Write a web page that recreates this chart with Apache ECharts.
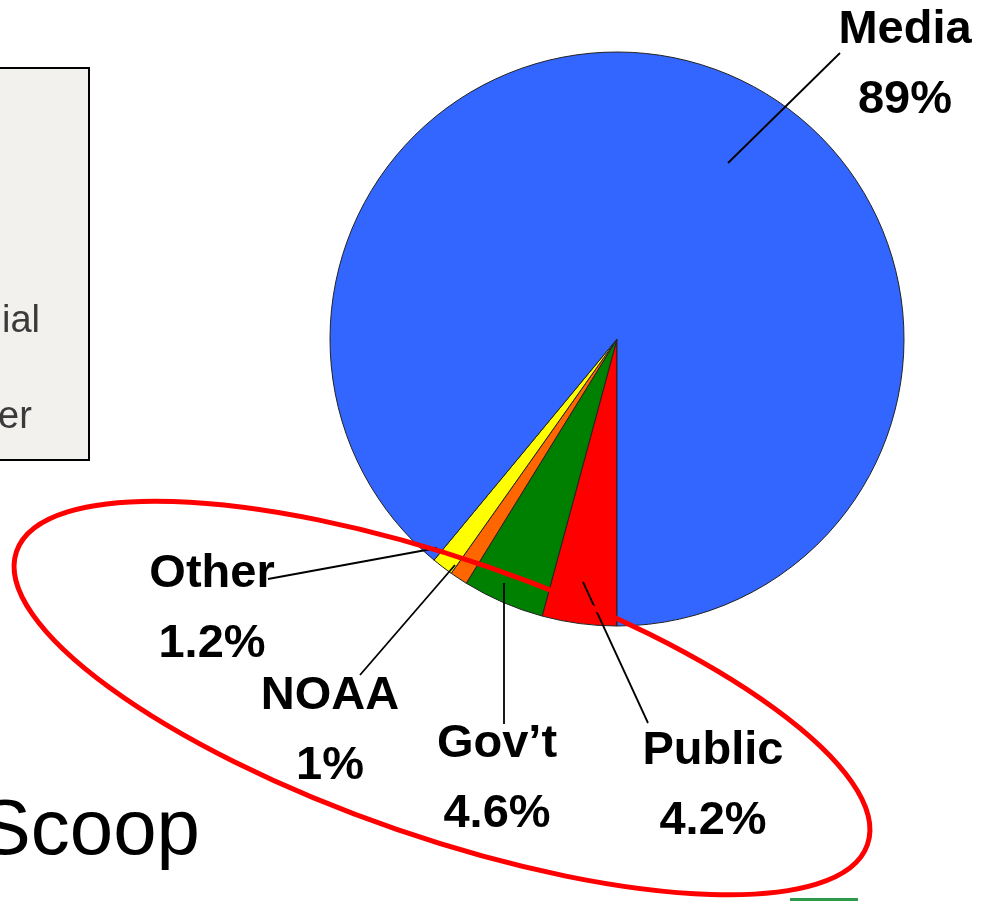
<!DOCTYPE html>
<html>
<head>
<meta charset="utf-8">
<script src="https://cdn.jsdelivr.net/npm/echarts@6/dist/echarts.min.js"></script>
<style>
html,body{margin:0;padding:0;background:#fff;}
#chart{width:990px;height:901px;}
</style>
</head>
<body>
<div id="chart"></div>
<script>
// Data
const categories = ['Public', 'Gov\u2019t', 'NOAA', 'Other', 'Media'];
const shares = [4.2, 4.6, 1, 1.2, 89];
const legendFragments = ['ial', 'er'];
const footerText = 'Scoop';

// Styles / layout (not data)
const sliceColors = ['#FF0000', '#008000', '#FF6600', '#FFFF00', '#3366FF'];
const labelPos = [
  { x: 713, y: 786, line: [[583, 582], [648, 723]] },
  { x: 497, y: 779, line: [[504, 583], [504, 724]] },
  { x: 330, y: 731, line: [[455, 565], [360, 675]] },
  { x: 212, y: 609, line: [[437, 548], [268, 579]] },
  { x: 905, y: 65, line: [[728, 163], [840, 53]] }
];

const chart = echarts.init(document.getElementById('chart'), null, { renderer: 'canvas' });

const leaderLines = labelPos.map(p => ({
  type: 'polyline', z: 50,
  shape: { points: p.line },
  style: { stroke: '#000', lineWidth: 1.8, fill: null }
}));

const option = {
  backgroundColor: '#ffffff',
  animation: false,
  graphic: [
    {
      type: 'rect', z: 1,
      shape: { x: -10, y: 68, width: 99, height: 392 },
      style: { fill: '#f3f1ee', stroke: '#000', lineWidth: 2 }
    },
    {
      type: 'text', z: 2, x: 2, y: 322,
      style: { text: legendFragments[0], font: '38px "Liberation Sans", Arial, sans-serif', fill: '#3a3a3a', align: 'left', verticalAlign: 'middle' }
    },
    {
      type: 'text', z: 2, x: -2, y: 418,
      style: { text: legendFragments[1], font: '38px "Liberation Sans", Arial, sans-serif', fill: '#3a3a3a', align: 'left', verticalAlign: 'middle' }
    },
    {
      type: 'text', z: 2, x: 200, y: 832,
      style: { text: footerText, font: '78px "Liberation Sans", Arial, sans-serif', fill: '#000', align: 'right', verticalAlign: 'middle' }
    },
    ...leaderLines,
    {
      type: 'ellipse', z: 100,
      x: 442, y: 698, rotation: -19 * Math.PI / 180,
      shape: { cx: 0, cy: 0, rx: 450, ry: 139 },
      style: { fill: null, stroke: '#FF0000', lineWidth: 5 }
    },
    {
      type: 'rect', z: 2,
      shape: { x: 790, y: 898, width: 68, height: 3 },
      style: { fill: '#2e9a4c' }
    }
  ],
  series: [{
    type: 'pie',
    z: 2,
    center: [617, 339],
    radius: 287,
    startAngle: 270,
    clockwise: true,
    avoidLabelOverlap: false,
    silent: true,
    itemStyle: { borderColor: '#222', borderWidth: 1 },
    label: {
      show: true,
      position: 'outside',
      formatter: '{b}\n{c}%',
      fontFamily: '"Liberation Sans", Arial, sans-serif',
      fontWeight: 'bold',
      fontSize: 47,
      lineHeight: 70,
      color: '#000',
      align: 'center'
    },
    labelLine: { show: false },
    labelLayout: function (params) {
      const p = labelPos[params.dataIndex];
      return { x: p.x, y: p.y, align: 'center', verticalAlign: 'middle' };
    },
    emphasis: { disabled: true },
    data: categories.map((c, i) => ({ name: c, value: shares[i], itemStyle: { color: sliceColors[i] } }))
  }]
};

chart.setOption(option);
</script>
</body>
</html>
